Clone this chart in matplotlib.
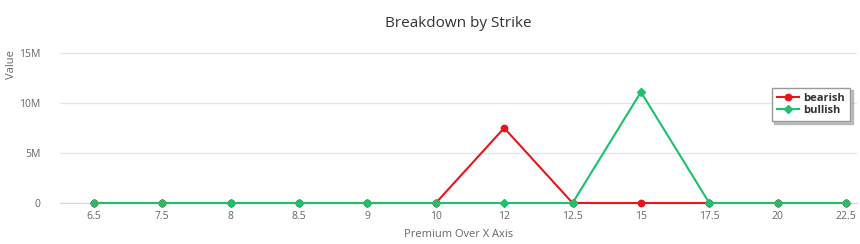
import numpy as np
import matplotlib.pyplot as plt

plt.rcParams['font.family'] = ['Open Sans', 'DejaVu Sans']

strikes = ['6.5', '7.5', '8', '8.5', '9', '10', '12', '12.5', '15', '17.5', '20', '22.5']
bearish = [0, 0, 0, 0, 0, 0, 7.5e6, 0, 0, 0, 0, 0]
bullish = [0, 0, 0, 0, 0, 0, 0, 0, 11.1e6, 0, 0, 0]

fig = plt.figure(figsize=(8.6, 2.44), dpi=100)
ax = fig.add_axes([60/860, 1 - 203/244, 797/860, 150/244])

x = np.arange(len(strikes))
ax.plot(x, bearish, color='#e8161b', lw=1.5, marker='o', ms=4.6,
        label='bearish', clip_on=False, zorder=3)
ax.plot(x, bullish, color='#1cc06d', lw=1.5, marker='D', ms=3.6,
        label='bullish', clip_on=False, zorder=4)

ax.set_xlim(-0.497, 11.16)
ax.set_ylim(0, 15e6)
ax.set_xticks(x)
ax.set_xticklabels(strikes)
ax.set_yticks([0, 5e6, 10e6, 15e6])
ax.set_yticklabels(['0', '5M', '10M', '15M'])
ax.tick_params(axis='both', length=0, labelsize=7.5, colors='#666666')
ax.tick_params(axis='x', pad=6)
ax.tick_params(axis='y', pad=14)
ax.grid(axis='y', color='#e6e6e6', lw=1)
ax.set_axisbelow(True)
for s in ['top', 'right', 'left']:
    ax.spines[s].set_visible(False)
ax.spines['bottom'].set_color('#ccd6eb')

ax.set_title('Breakdown by Strike', fontsize=11, color='#333333', pad=19)
ax.set_xlabel('Premium Over X Axis', fontsize=8, color='#666666', labelpad=5)
fig.text(12/860, 1 - 65/244, 'Value', rotation=90, fontsize=8, color='#666666',
         ha='center', va='center')

leg = ax.legend(loc='upper left', bbox_to_anchor=((766 - 60)/797, (203 - 82)/150),
                fontsize=8, frameon=True, fancybox=False,
                shadow={'color': '#999999', 'alpha': 0.6},
                handlelength=2, handletextpad=0.4, borderpad=0.45, labelspacing=0.15)
leg.get_frame().set_edgecolor('#999999')
for t in leg.get_texts():
    t.set_fontweight('bold')
    t.set_color('#333333')

fig.savefig('out.png', dpi=100)
